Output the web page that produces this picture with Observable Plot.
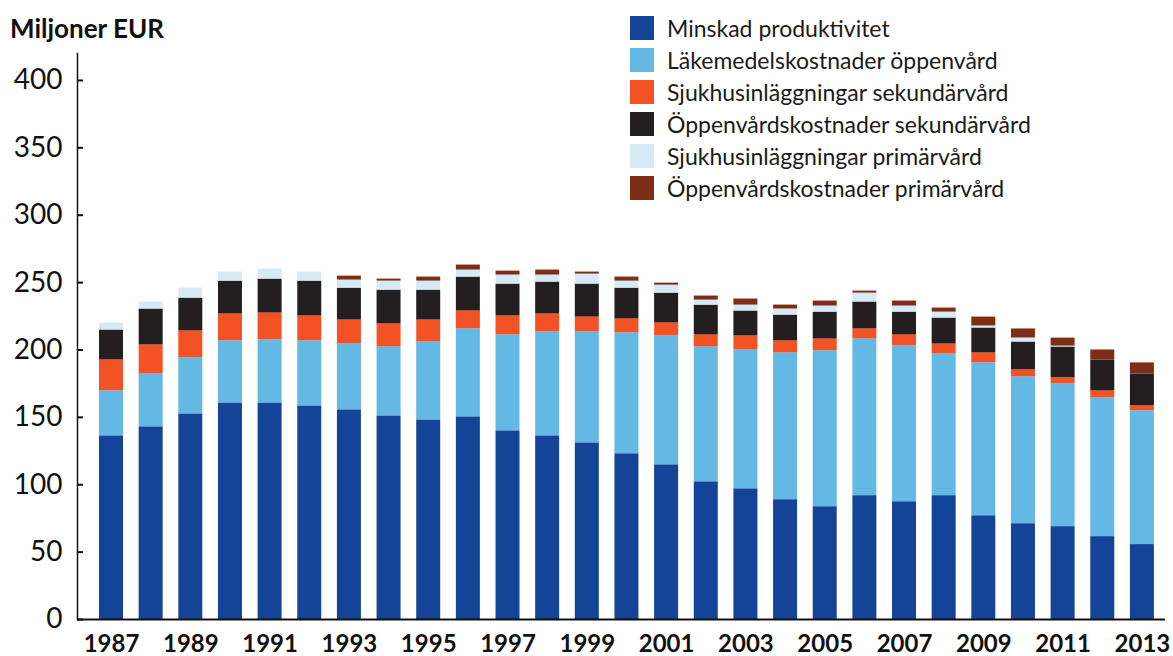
<!DOCTYPE html>
<html>
<head>
<meta charset="utf-8">
<script src="https://cdn.jsdelivr.net/npm/d3@7"></script>
<script src="https://cdn.jsdelivr.net/npm/@observablehq/plot@0.6"></script>
<style>
  html, body { margin: 0; padding: 0; background: #fff; }
  #wrap { position: relative; width: 1173px; height: 656px; font-family: Lato, "Noto Sans", sans-serif; }
  #title { box-sizing: border-box; height: 40px; padding: 15px 0 0 10px; font: bold 26px/1 Lato, sans-serif; color: #111; }
  #legend { position: absolute; left: 630px; top: 16px; }
  .row { display: flex; align-items: center; height: 24px; margin-bottom: 8px; }
  .sw { width: 24px; height: 24px; margin-right: 13px; }
  .lab { font: 400 23px Lato, sans-serif; color: #1a1a1a; white-space: nowrap; }
  g[aria-label="x-axis tick label"] text { font-weight: bold; }
</style>
</head>
<body>
<div id="wrap">
  <div id="title">Miljoner EUR</div>
  <div id="chart"></div>
  <div id="legend"></div>
</div>
<script>
const years = [1987,1988,1989,1990,1991,1992,1993,1994,1995,1996,1997,1998,1999,2000,2001,2002,2003,2004,2005,2006,2007,2008,2009,2010,2011,2012,2013];
const seriesNames = [
  "Minskad produktivitet",
  "Läkemedelskostnader öppenvård",
  "Sjukhusinläggningar sekundärvård",
  "Öppenvårdskostnader sekundärvård",
  "Sjukhusinläggningar primärvård",
  "Öppenvårdskostnader primärvård"
];
const seriesColors = ["#144497", "#64b8e4", "#f25224", "#231f20", "#d6eaf5", "#7e2e17"];

const minskadProduktivitet = [136.3,143.0,152.6,160.7,160.7,158.5,155.6,151.1,148.1,150.4,140.0,136.3,131.1,123.0,114.8,102.2,97.0,88.9,83.7,91.9,87.4,91.9,77.0,71.1,68.9,61.5,55.6];
const lakemedelOppenvard   = [33.3,39.2,41.5,46.0,46.7,48.2,48.8,51.1,57.8,65.2,71.1,77.0,82.2,89.6,95.6,100.0,103.0,108.9,115.6,116.2,115.6,105.1,113.4,108.9,105.9,102.9,99.2];
const sjukhusSekundar      = [23.0,21.5,20.0,20.0,20.0,18.5,17.8,17.1,16.3,13.3,14.1,13.4,11.1,10.4,9.6,8.9,10.4,8.9,8.8,7.5,8.1,7.4,7.4,5.2,4.5,5.2,3.7];
const oppenvardSekundar    = [22.2,26.7,24.4,24.4,25.2,25.9,23.7,25.1,22.2,25.2,23.7,23.7,24.5,22.9,22.2,22.2,18.5,19.2,20.0,20.0,17.0,19.3,18.5,20.7,22.9,23.0,23.7];
const sjukhusPrimar        = [5.2,5.2,7.4,6.7,7.4,6.7,6.0,6.7,6.7,5.2,6.7,5.2,7.4,5.2,5.9,3.7,4.4,4.5,4.5,6.6,4.5,4.4,1.5,3.0,0.7,0,0];
const oppenvardPrimar      = [0,0,0,0,0,0,2.9,1.5,3.0,3.7,2.9,3.7,1.5,3.0,1.5,3.0,4.5,2.9,3.7,1.5,3.7,3.0,6.6,6.7,5.9,7.4,8.2];

const yTicks = [0,50,100,150,200,250,300,350,400];
const xTickLabels = years.filter((y, i) => i % 2 === 0);

const seriesValues = [minskadProduktivitet, lakemedelOppenvard, sjukhusSekundar, oppenvardSekundar, sjukhusPrimar, oppenvardPrimar];
const data = [];
seriesNames.forEach((name, s) => {
  years.forEach((year, i) => data.push({year, series: name, value: seriesValues[s][i]}));
});

const chart = Plot.plot({
  width: 1173,
  height: 616,
  marginTop: 13,
  marginBottom: 37,
  marginLeft: 77,
  marginRight: 8,
  style: {fontFamily: "Lato, sans-serif", color: "#111", background: "#fff"},
  x: {type: "band", domain: years, paddingInner: 0.395, paddingOuter: 0.4175, align: 0.665, round: false, label: null},
  y: {domain: [0, 420], label: null},
  color: {domain: seriesNames, range: seriesColors},
  marks: [
    Plot.barY(data, {x: "year", y: "value", fill: "series", order: null}),
    Plot.frame({anchor: "left", stroke: "#111", strokeWidth: 1.5}),
    Plot.ruleY([0], {stroke: "#111", strokeWidth: 2}),
    Plot.axisY({ticks: yTicks, tickSize: 0, tickPadding: 15, fontSize: 28, label: null}),
    Plot.axisY({ticks: yTicks, tickSize: -6, tickFormat: () => "", strokeWidth: 2, label: null}),
    Plot.axisX({ticks: xTickLabels, tickFormat: d => String(d), tickSize: 0, tickPadding: 15, fontSize: 24, fontWeight: "bold", label: null})
  ]
});
document.getElementById("chart").appendChild(chart);

const legend = document.getElementById("legend");
seriesNames.forEach((name, i) => {
  const row = document.createElement("div");
  row.className = "row";
  const sw = document.createElement("div");
  sw.className = "sw";
  sw.style.background = seriesColors[i];
  const lab = document.createElement("div");
  lab.className = "lab";
  lab.textContent = name;
  row.appendChild(sw);
  row.appendChild(lab);
  legend.appendChild(row);
});
</script>
</body>
</html>
